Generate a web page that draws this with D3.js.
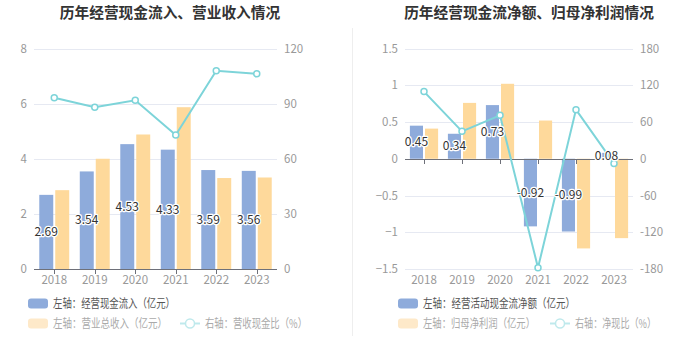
<!DOCTYPE html>
<html><head><meta charset="utf-8">
<script src="https://cdn.jsdelivr.net/npm/d3@7"></script>
<style>
body{margin:0;background:#fff;font-family:"Noto Sans CJK SC","Noto Sans",sans-serif;}
svg{display:block}
</style></head>
<body><svg id="c" width="700" height="360"></svg>
<script>
const years = ["2018","2019","2020","2021","2022","2023"];
// Left chart
const cashIn = [2.69, 3.54, 4.53, 4.33, 3.59, 3.56];
const revenue = [2.86, 4.00, 4.88, 5.87, 3.30, 3.32];
const cashRatio = [93.2, 88.0, 91.8, 72.9, 107.9, 106.2];
const leftTicksL = [0, 2, 4, 6, 8];
const leftTicksR = [0, 30, 60, 90, 120];
// Right chart
const netCash = [0.45, 0.34, 0.73, -0.92, -0.99, 0.08];
const netProfit = [0.41, 0.76, 1.02, 0.52, -1.22, -1.08];
const netRatio = [109.6, 44.7, 70.9, -177.9, 80.2, -7.6];
const rightTicksL = [-1.5, -1, -0.5, 0, 0.5, 1, 1.5];
const rightTicksR = [-180, -120, -60, 0, 60, 120, 180];

const titles = ["历年经营现金流入、营业收入情况", "历年经营现金流净额、归母净利润情况"];
const legends = [
  ["左轴：经营现金流入（亿元）", "左轴：营业总收入（亿元）", "右轴：营收现金比（%）"],
  ["左轴：经营活动现金流净额（亿元）", "左轴：归母净利润（亿元）", "右轴：净现比（%）"]
];

const BLUE = "#8eabdb", YELLOW = "#fed99b", LINE = "#7dd4d9";
const svg = d3.select("#c");

svg.append("line").attr("x1", 352.5).attr("x2", 352.5).attr("y1", 28).attr("y2", 336)
  .attr("stroke", "#eeeeee").attr("stroke-width", 1);

function chart(cfg) {
  const g = svg.append("g");
  const x = d3.scaleBand().domain(years).range([cfg.x0, cfg.x1]);
  const yL = d3.scaleLinear().domain(cfg.dL).range([269, 48.5]);
  const yR = d3.scaleLinear().domain(cfg.dR).range([269, 48.5]);

  g.append("text").attr("x", cfg.tx).attr("y", 18).attr("text-anchor", "middle")
    .attr("font-size", 14.7).attr("font-weight", "bold").attr("fill", "#333").text(cfg.title);

  // grid
  g.selectAll(".grid").data(cfg.tL).join("line")
    .attr("x1", cfg.x0).attr("x2", cfg.x1)
    .attr("y1", d => Math.round(yL(d)) + 0.5).attr("y2", d => Math.round(yL(d)) + 0.5)
    .attr("stroke", "#e6e9f2");

  g.selectAll(".ll").data(cfg.tL).join("text")
    .attr("x", cfg.x0 - 7).attr("y", d => yL(d)).attr("dy", "0.35em")
    .attr("text-anchor", "end").attr("font-size", 11.5).attr("fill", "#999")
    .text(d => d3.format("~g")(d));
  g.selectAll(".rl").data(cfg.tR).join("text")
    .attr("x", cfg.x1 + 7).attr("y", d => yR(d)).attr("dy", "0.35em")
    .attr("text-anchor", "start").attr("font-size", 11.5).attr("fill", "#999")
    .text(d => d);

  const bw = x.bandwidth() * 0.345;
  const cx = d => x(d) + x.bandwidth() / 2;
  const zero = yL(0);

  g.selectAll(".b1").data(cfg.s1).join("rect")
    .attr("x", (d, i) => cx(years[i]) - 1 - bw)
    .attr("width", bw)
    .attr("y", d => Math.min(yL(d), zero))
    .attr("height", d => Math.abs(yL(d) - zero))
    .attr("fill", BLUE);
  g.selectAll(".b2").data(cfg.s2).join("rect")
    .attr("x", (d, i) => cx(years[i]) + 1)
    .attr("width", bw)
    .attr("y", d => Math.min(yL(d), zero))
    .attr("height", d => Math.abs(yL(d) - zero))
    .attr("fill", YELLOW);

  g.append("line").attr("x1", cfg.x0).attr("x2", cfg.x1)
    .attr("y1", Math.round(zero) + 0.5).attr("y2", Math.round(zero) + 0.5)
    .attr("stroke", "#6e7079");
  g.selectAll(".tk").data(years).join("line")
    .attr("x1", d => Math.round(cx(d)) + 0.5).attr("x2", d => Math.round(cx(d)) + 0.5)
    .attr("y1", Math.round(zero)).attr("y2", Math.round(zero) + 5)
    .attr("stroke", "#6e7079");
  g.selectAll(".xl").data(years).join("text")
    .attr("x", d => cx(d)).attr("y", 280).attr("dy", "0.35em")
    .attr("text-anchor", "middle").attr("font-size", 11.5).attr("fill", "#999")
    .text(d => d);

  const line = d3.line().x((d, i) => cx(years[i])).y(d => yR(d));
  g.append("path").datum(cfg.s3).attr("d", line).attr("fill", "none")
    .attr("stroke", LINE).attr("stroke-width", 2);
  g.selectAll(".pt").data(cfg.s3).join("circle")
    .attr("cx", (d, i) => cx(years[i])).attr("cy", d => yR(d)).attr("r", 3)
    .attr("fill", "#fff").attr("stroke", LINE).attr("stroke-width", 1.5);

  g.selectAll(".lb").data(cfg.s1).join("text")
    .attr("x", (d, i) => cx(years[i]) - 1 - bw / 2)
    .attr("y", d => (yL(d) + zero) / 2).attr("dy", "0.35em")
    .attr("text-anchor", "middle").attr("font-size", 12).attr("fill", "#333")
    .attr("stroke", "#fff").attr("stroke-width", 2.5).attr("paint-order", "stroke")
    .attr("stroke-linejoin", "round")
    .text(d => d.toFixed(2));

  // legend
  const lg = g.append("g");
  lg.append("rect").attr("x", cfg.lx).attr("y", 298.5).attr("width", 20).attr("height", 10)
    .attr("rx", 3).attr("fill", BLUE);
  lg.append("text").attr("x", cfg.lx + 25).attr("y", 303.5).attr("dy", "0.35em")
    .attr("font-size", 12).attr("fill", "#555")
    .attr("textLength", cfg.lw[0]).attr("lengthAdjust", "spacingAndGlyphs").text(cfg.leg[0]);
  lg.append("rect").attr("x", cfg.lx).attr("y", 318.5).attr("width", 20).attr("height", 10)
    .attr("rx", 3).attr("fill", "#fee9c9");
  lg.append("text").attr("x", cfg.lx + 25).attr("y", 323.5).attr("dy", "0.35em")
    .attr("font-size", 12).attr("fill", "#aaa")
    .attr("textLength", cfg.lw[1]).attr("lengthAdjust", "spacingAndGlyphs").text(cfg.leg[1]);
  lg.append("line").attr("x1", cfg.lx2).attr("x2", cfg.lx2 + 20).attr("y1", 323.5).attr("y2", 323.5)
    .attr("stroke", "#bfe9ec").attr("stroke-width", 2);
  lg.append("circle").attr("cx", cfg.lx2 + 10).attr("cy", 323.5).attr("r", 4.5)
    .attr("fill", "#fff").attr("stroke", "#bfe9ec").attr("stroke-width", 1.5);
  lg.append("text").attr("x", cfg.lx2 + 25).attr("y", 323.5).attr("dy", "0.35em")
    .attr("font-size", 12).attr("fill", "#aaa")
    .attr("textLength", cfg.lw[2]).attr("lengthAdjust", "spacingAndGlyphs").text(cfg.leg[2]);
}

chart({x0: 34, x1: 277, dL: [0, 8], dR: [0, 120], tL: leftTicksL, tR: leftTicksR,
  s1: cashIn, s2: revenue, s3: cashRatio, title: titles[0], tx: 170, leg: legends[0],
  lx: 28, lx2: 180, lw: [122, 114, 102]});
chart({x0: 405, x1: 633, dL: [-1.5, 1.5], dR: [-180, 180], tL: rightTicksL, tR: rightTicksR,
  s1: netCash, s2: netProfit, s3: netRatio, title: titles[1], tx: 529, leg: legends[1],
  lx: 398, lx2: 550, lw: [152, 112, 81]});
</script></body></html>
